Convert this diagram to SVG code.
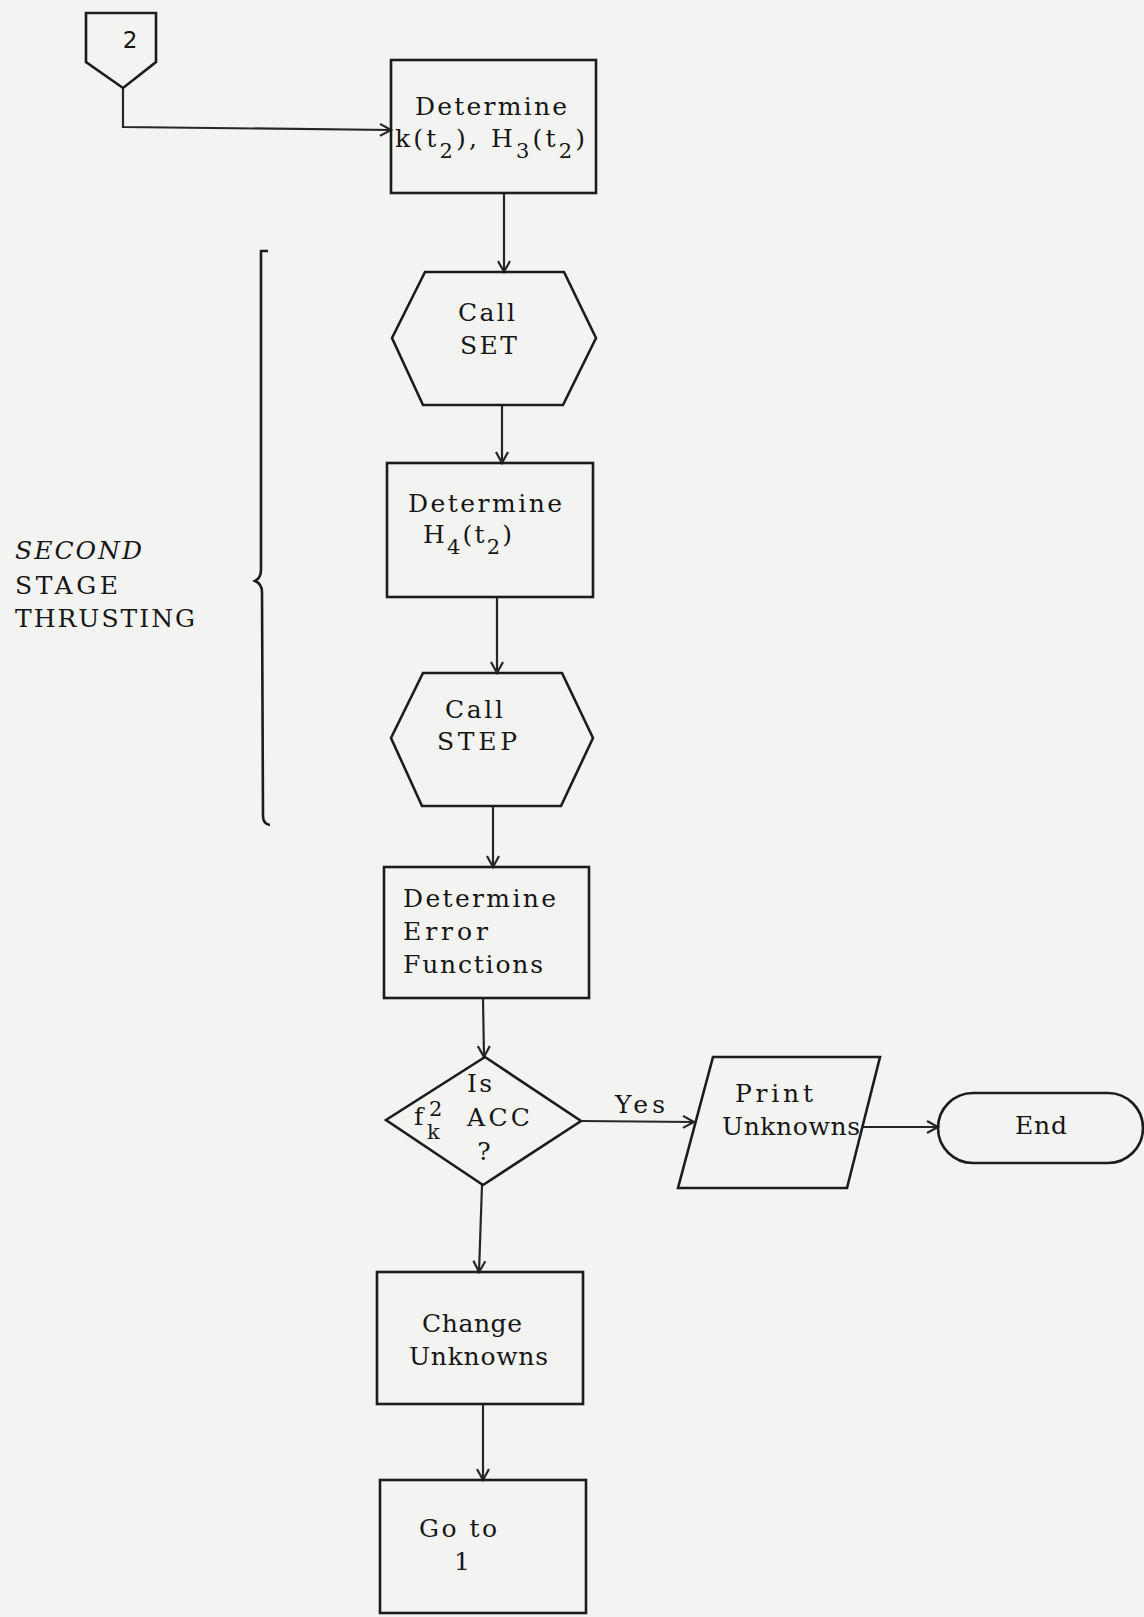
<svg xmlns="http://www.w3.org/2000/svg" width="1144" height="1617" viewBox="0 0 1144 1617">
<style>
.bg{fill:#f3f3f1}
.shape{fill:none;stroke:#1c1c1c;stroke-width:2.6;stroke-linejoin:miter}
.conn{fill:none;stroke:#262626;stroke-width:2.2}
.t{font-family:"DejaVu Serif","Liberation Serif",serif;font-size:25px;fill:#161616}
.s{font-size:21px}
.hand{font-family:"DejaVu Sans","Liberation Sans",sans-serif;font-size:23px;fill:#161616}
</style>
<defs>
<marker id="arr" markerUnits="userSpaceOnUse" markerWidth="16" markerHeight="16" viewBox="0 0 16 16" refX="13" refY="8" orient="auto">
<path d="M2,2 L13,8 L2,14" fill="none" stroke="#262626" stroke-width="2.2"/>
</marker>
</defs>
<rect class="bg" x="0" y="0" width="1144" height="1617"/>

<g id="connectors">
<path class="conn" d="M123,88 L123,127 L391,130" marker-end="url(#arr)"/>
<path class="conn" d="M504,193 L504,272" marker-end="url(#arr)"/>
<path class="conn" d="M502,405 L502,463" marker-end="url(#arr)"/>
<path class="conn" d="M497,597 L497,673" marker-end="url(#arr)"/>
<path class="conn" d="M493,806 L493,867" marker-end="url(#arr)"/>
<path class="conn" d="M483,998 L484,1057" marker-end="url(#arr)"/>
<path class="conn" d="M482,1185 L479,1272" marker-end="url(#arr)"/>
<path class="conn" d="M581,1121 L694,1122" marker-end="url(#arr)"/>
<path class="conn" d="M862,1127 L938,1127" marker-end="url(#arr)"/>
<path class="conn" d="M483,1404 L483,1480" marker-end="url(#arr)"/>
<text class="t" x="615" y="1113" textLength="50" lengthAdjust="spacing">Yes</text>
</g>

<g id="offpage2">
<polygon class="shape" points="86,13 156,13 156,62 123,88 86,62"/>
<text class="hand" x="130" y="48" text-anchor="middle">2</text>
</g>

<g id="box1">
<rect class="shape" x="391" y="60" width="205" height="133"/>
<text class="t" x="415" y="115" textLength="152" lengthAdjust="spacing">Determine</text>
<text class="t" x="395" y="147" textLength="190" lengthAdjust="spacing">k(t<tspan class="s" dy="11">2</tspan><tspan dy="-11">), H</tspan><tspan class="s" dy="11">3</tspan><tspan dy="-11">(t</tspan><tspan class="s" dy="11">2</tspan><tspan dy="-11">)</tspan></text>
</g>

<g id="hex1">
<polygon class="shape" points="425,272 564,272 596,338 563,405 423,405 392,338"/>
<text class="t" x="458" y="321" textLength="57" lengthAdjust="spacing">Call</text>
<text class="t" x="460" y="354" textLength="57" lengthAdjust="spacing">SET</text>
</g>

<g id="box2">
<rect class="shape" x="387" y="463" width="206" height="134"/>
<text class="t" x="408" y="512" textLength="154" lengthAdjust="spacing">Determine</text>
<text class="t" x="423" y="543" textLength="89" lengthAdjust="spacing">H<tspan class="s" dy="11">4</tspan><tspan dy="-11">(t</tspan><tspan class="s" dy="11">2</tspan><tspan dy="-11">)</tspan></text>
</g>

<g id="hex2">
<polygon class="shape" points="423,673 562,673 593,738 561,806 422,806 391,738"/>
<text class="t" x="445" y="718" textLength="58" lengthAdjust="spacing">Call</text>
<text class="t" x="437" y="750" textLength="80" lengthAdjust="spacing">STEP</text>
</g>

<g id="box3">
<rect class="shape" x="384" y="867" width="205" height="131"/>
<text class="t" x="403" y="907" textLength="153" lengthAdjust="spacing">Determine</text>
<text class="t" x="403" y="940" textLength="85" lengthAdjust="spacing">Error</text>
<text class="t" x="403" y="973" textLength="140" lengthAdjust="spacing">Functions</text>
</g>

<g id="decision">
<polygon class="shape" points="485,1057 581,1121 483,1185 386,1120"/>
<text class="t" x="467" y="1092" textLength="25" lengthAdjust="spacing">Is</text>
<text class="t" x="414" y="1125">f</text>
<text class="t s" x="429" y="1116">2</text>
<text class="t s" x="427" y="1139">k</text>
<text class="t" x="467" y="1126" textLength="63" lengthAdjust="spacing">ACC</text>
<text class="t" x="484" y="1160" text-anchor="middle">?</text>
</g>

<g id="print">
<polygon class="shape" points="713,1057 880,1057 847,1188 678,1188"/>
<text class="t" x="735" y="1102" textLength="78" lengthAdjust="spacing">Print</text>
<text class="t" x="722" y="1135" textLength="138" lengthAdjust="spacing">Unknowns</text>
</g>

<g id="end">
<rect class="shape" x="938" y="1093" width="205" height="70" rx="35" ry="35"/>
<text class="t" x="1015" y="1134" textLength="52" lengthAdjust="spacing">End</text>
</g>

<g id="box4">
<rect class="shape" x="377" y="1272" width="206" height="132"/>
<text class="t" x="422" y="1332" textLength="100" lengthAdjust="spacing">Change</text>
<text class="t" x="409" y="1365" textLength="139" lengthAdjust="spacing">Unknowns</text>
</g>

<g id="box5">
<rect class="shape" x="380" y="1480" width="206" height="133"/>
<text class="t" x="419" y="1537" textLength="78" lengthAdjust="spacing">Go to</text>
<text class="t" x="462" y="1570" text-anchor="middle">1</text>
</g>

<g id="stage-label">
<path class="shape" d="M268,251 L261,251 L261,570 Q261,578 255,581 Q262,584 262,592 L263,816 Q263,824 270,825"/>
<text class="t" x="15" y="559" textLength="127" lengthAdjust="spacing" font-style="italic">SECOND</text>
<text class="t" x="15" y="594" textLength="103" lengthAdjust="spacing">STAGE</text>
<text class="t" x="15" y="627" textLength="180" lengthAdjust="spacing">THRUSTING</text>
</g>
</svg>
